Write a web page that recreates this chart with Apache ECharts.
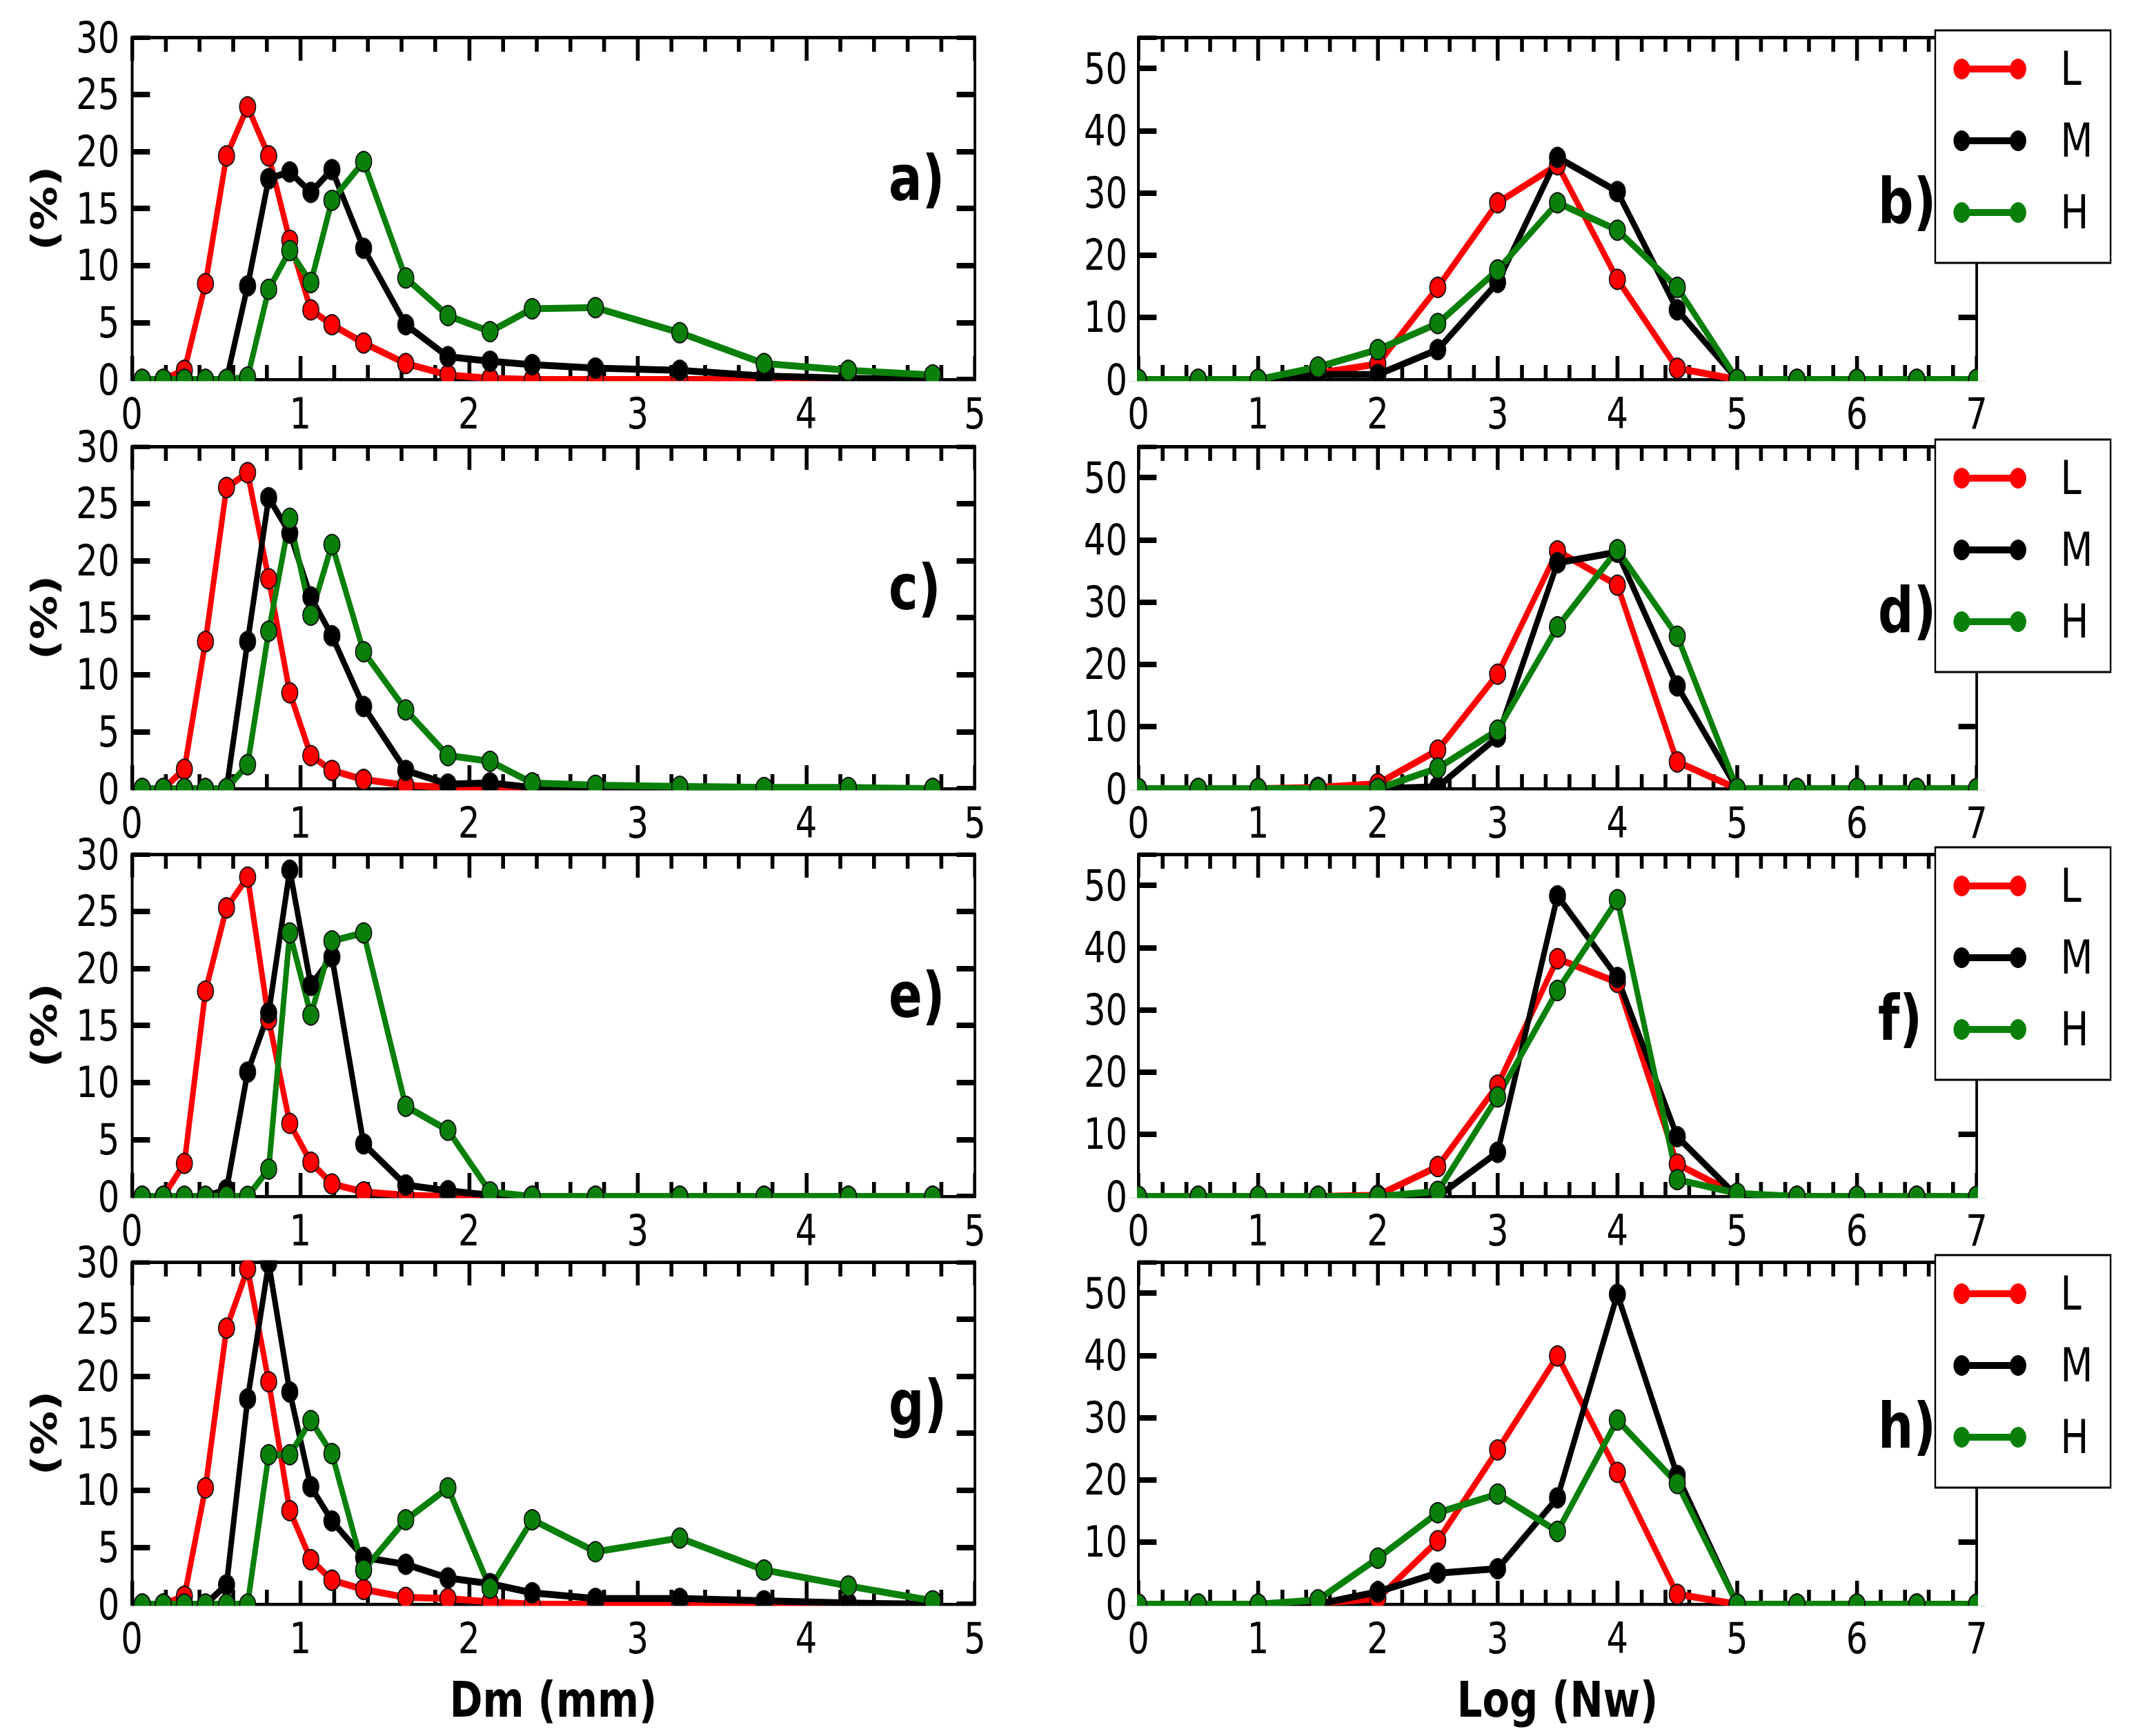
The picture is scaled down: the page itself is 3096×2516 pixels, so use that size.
<!DOCTYPE html>
<html>
<head>
<meta charset="utf-8">
<script src="https://cdn.jsdelivr.net/npm/echarts@6/dist/echarts.min.js"></script>
<style>
html,body{margin:0;padding:0;background:#fff;overflow:hidden;width:3096px;height:2516px;}
#chart{width:3870px;height:2516px;transform:scaleX(0.8);transform-origin:0 0;}
</style>
</head>
<body>
<div id="chart"></div>
<script>
// ---- data ----
const dmBins = [0.062,0.187,0.312,0.437,0.562,0.687,0.812,0.937,1.062,1.187,1.375,1.625,1.875,2.125,2.375,2.75,3.25,3.75,4.25,4.75];
const nwBins = [0,0.5,1,1.5,2,2.5,3,3.5,4,4.5,5,5.5,6,6.5,7];
const seriesNames = ['L','M','H'];
const panelLabels = ['a)','b)','c)','d)','e)','f)','g)','h)'];
const dmTickLabels = ['0','1','2','3','4','5'];
const nwTickLabels = ['0','1','2','3','4','5','6','7'];

const aL = [0,0,0.8,8.4,19.6,23.9,19.6,12.2,6.1,4.8,3.2,1.4,0.4,0.1,0,0,0,0,0,0];
const aM = [0,0,0,0,0,8.2,17.6,18.2,16.4,18.4,11.5,4.8,2.0,1.6,1.3,1.0,0.8,0.3,0.1,0];
const aH = [0,0,0,0,0,0.2,7.9,11.3,8.5,15.7,19.1,8.9,5.6,4.2,6.2,6.3,4.1,1.4,0.8,0.4];

const bL = [0,0,0,1.0,2.5,14.8,28.4,34.5,16.1,1.8,0,0,0,0,0];
const bM = [0,0,0,0.8,0.8,4.8,15.6,35.7,30.2,11.2,0,0,0,0,0];
const bH = [0,0,0,2.0,4.8,9.0,17.6,28.4,24.0,14.8,0,0,0,0,0];

const cL = [0,0,1.7,12.9,26.4,27.7,18.4,8.4,2.9,1.6,0.8,0.3,0.1,0,0,0,0,0,0,0];
const cM = [0,0,0,0,0,12.9,25.5,22.4,16.8,13.4,7.2,1.6,0.4,0.5,0.1,0,0,0,0,0];
const cH = [0,0,0,0,0,2.1,13.8,23.7,15.2,21.4,12.0,6.9,2.9,2.4,0.5,0.3,0.2,0.1,0.1,0];

const dL = [0,0,0,0.2,0.8,6.2,18.4,38.2,32.7,4.3,0,0,0,0,0];
const dM = [0,0,0,0,0,0.3,8.3,36.3,38.0,16.5,0,0,0,0,0];
const dH = [0,0,0,0,0,3.3,9.4,26.0,38.4,24.5,0,0,0,0,0];

const eL = [0,0,2.9,18.0,25.3,28.0,15.5,6.4,3.0,1.1,0.4,0.1,0,0,0,0,0,0,0,0];
const eM = [0,0,0,0,0.6,10.9,16.1,28.6,18.5,21.0,4.6,1.0,0.5,0.1,0,0,0,0,0,0];
const eH = [0,0,0,0,0,0,2.4,23.1,15.9,22.4,23.1,7.9,5.8,0.4,0,0,0,0,0,0];

const fL = [0,0,0,0,0.2,4.8,17.9,38.2,34.4,5.2,0.3,0,0,0,0];
const fM = [0,0,0,0,0,0,7.1,48.3,35.2,9.6,0,0,0,0,0];
const fH = [0,0,0,0,0,0.8,16.0,33.1,47.7,2.7,0.5,0,0,0,0];

const gL = [0,0,0.7,10.2,24.2,29.4,19.5,8.2,3.9,2.1,1.3,0.6,0.5,0.2,0,0,0,0,0,0];
const gM = [0,0,0,0,1.7,18.0,29.9,18.6,10.3,7.3,4.1,3.5,2.3,1.8,1.0,0.5,0.5,0.3,0.1,0];
const gH = [0,0,0,0,0,0,13.1,13.1,16.1,13.2,3.0,7.4,10.2,1.4,7.4,4.6,5.8,3.0,1.6,0.3];

const hL = [0,0,0,0.2,0.9,10.2,24.8,39.9,21.2,1.6,0,0,0,0,0];
const hM = [0,0,0,0,2.0,5.0,5.7,17.1,49.8,20.7,0,0,0,0,0];
const hH = [0,0,0,0.7,7.4,14.7,17.7,11.7,29.6,19.4,0,0,0,0,0];

const panelData = [[aL,aM,aH],[bL,bM,bH],[cL,cM,cH],[dL,dM,dH],[eL,eM,eH],[fL,fM,fH],[gL,gM,gH],[hL,hM,hH]];

// ---- layout / style ----
const S = 0.8;
const colors = ['#ff0000','#000000','#0a800a'];
const FONT = "'DejaVu Sans', 'Noto Sans', sans-serif";
const colX = [[191,1413],[1650,2865]];
const rowTop = [54,647,1238,1829];
const GH = 496;

const grids = [], xAxes = [], yAxes = [], series = [], graphics = [], legends = [];

for (let i = 0; i < 8; i++) {
  const row = Math.floor(i/2), col = i % 2;
  const isDm = col === 0;
  const left = colX[col][0]/S, width = (colX[col][1]-colX[col][0])/S, top = rowTop[row];
  grids.push({left: left, top: top, width: width, height: GH});
  const xmax = isDm ? 5 : 7;
  const xBase = {
    type:'value', gridIndex:i, min:0, max:xmax, interval:1,
    axisLine:{show:true,onZero:false,lineStyle:{color:'#000',width:5}},
    axisTick:{show:true,inside:true,length:34,lineStyle:{color:'#000',width:7}},
    minorTick:{show:true,splitNumber:5,length:21,lineStyle:{color:'#000',width:7}},
    splitLine:{show:false}, minorSplitLine:{show:false}
  };
  const tickLabels = isDm ? dmTickLabels : nwTickLabels;
  const bottomX = Object.assign({}, xBase, {
    position:'bottom',
    axisLabel:{show:true,fontSize:62,color:'#000',fontFamily:FONT,margin:18,
      formatter:(v)=> tickLabels[Math.round(v)] !== undefined && Math.abs(v-Math.round(v))<1e-6 ? tickLabels[Math.round(v)] : ''}
  });
  if (row === 3) {
    bottomX.name = isDm ? 'Dm (mm)' : 'Log (Nw)';
    bottomX.nameLocation = 'middle';
    bottomX.nameGap = 102;
    bottomX.nameTextStyle = {fontSize:72,fontWeight:'bold',color:'#000',fontFamily:FONT};
  }
  xAxes.push(bottomX);
  xAxes.push(Object.assign({}, xBase, {position:'top', axisLabel:{show:false}}));

  const ymax = isDm ? 30 : 55, yint = isDm ? 5 : 10;
  const yBase = {
    type:'value', gridIndex:i, min:0, max:ymax, interval:yint,
    axisLine:{show:true,onZero:false,lineStyle:{color:'#000',width:5}},
    axisTick:{show:true,inside:true,length:33,lineStyle:{color:'#000',width:8}},
    splitLine:{show:false}
  };
  const leftY = Object.assign({}, yBase, {
    position:'left',
    axisLabel:{show:true,fontSize:62,color:'#000',fontFamily:FONT,margin:isDm?22:20,
      formatter:(v)=> (v % yint === 0 && v <= (isDm?30:50)) ? String(v) : ''}
  });
  if (isDm) {
    leftY.name = '(%)';
    leftY.nameLocation = 'middle';
    leftY.nameRotate = 90;
    leftY.nameGap = 126;
    leftY.nameTextStyle = {fontSize:64,fontWeight:'bold',color:'#000',fontFamily:FONT};
  }
  yAxes.push(leftY);
  yAxes.push(Object.assign({}, yBase, {position:'right', axisLabel:{show:false}}));

  const bins = isDm ? dmBins : nwBins;
  for (let s = 0; s < 3; s++) {
    const vals = panelData[i][s];
    series.push({
      type:'line', name:seriesNames[s], xAxisIndex:2*i, yAxisIndex:2*i,
      data: bins.map((x,k)=>[x, vals[k]]),
      symbol:'circle', symbolSize:29, showSymbol:true, clip:true,
      lineStyle:{width:10,color:colors[s]},
      itemStyle:{color:colors[s],borderColor:'#111',borderWidth:2},
      emphasis:{disabled:true}, animation:false, z:2
    });
  }

  // panel letter
  graphics.push({
    type:'text', z:6,
    x: isDm ? 1288/S : 2722/S,
    y: top + (isDm ? 205 : 238),
    style:{text:panelLabels[i], fontSize:90, fontWeight:'bold', fontFamily:FONT, fill:'#000', textAlign:'left', textVerticalAlign:'middle'}
  });
  // masks emulating clipping of markers at the frame
  const m = 2.5, t = 16;
  graphics.push({type:'rect', z:3, silent:true, shape:{x:left-t-m, y:top+GH+m, width:width+2*(t+m), height:t}, style:{fill:'#fff'}});
  graphics.push({type:'rect', z:3, silent:true, shape:{x:left-t-m, y:top-m-t, width:width+2*(t+m), height:t}, style:{fill:'#fff'}});
  graphics.push({type:'rect', z:3, silent:true, shape:{x:left-m-t, y:top-m, width:t, height:GH+2*m}, style:{fill:'#fff'}});
  graphics.push({type:'rect', z:3, silent:true, shape:{x:left+width+m, y:top-m, width:t, height:GH+2*m}, style:{fill:'#fff'}});

  if (!isDm) {
    legends.push({
      show:true, orient:'vertical', left:2805/S, top:top-10,
      data:seriesNames, selectedMode:false,
      icon:'path://M29.14,10 L102.86,10 A15,15 0 1,1 102.86,20 L29.14,20 A15,15 0 1,1 29.14,10 Z',
      itemWidth:132, itemHeight:30, itemGap:36,
      padding:[22,32,39,33],
      backgroundColor:'#fff', borderColor:'#000', borderWidth:3, borderRadius:0,
      itemStyle:{borderWidth:0},
      textStyle:{fontSize:68,color:'#000',fontFamily:FONT,padding:[0,0,0,57]},
      z:10
    });
  }
}

const chart = echarts.init(document.getElementById('chart'), null, {renderer:'svg'});
chart.setOption({
  animation:false,
  backgroundColor:'#fff',
  grid:grids, xAxis:xAxes, yAxis:yAxes, series:series,
  legend:legends, graphic:graphics
});
</script>
</body>
</html>
